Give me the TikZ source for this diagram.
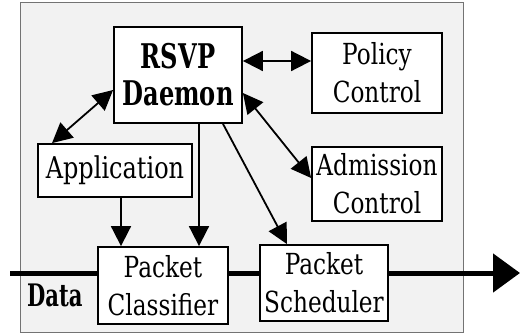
\documentclass[tikz,border=0pt]{standalone}
\usepackage{fontspec}
\usetikzlibrary{arrows.meta}
\newfontfamily\boxfont[FakeStretch=0.8]{DejaVu Serif}
\newfontfamily\headfont[FakeStretch=0.71]{DejaVu Serif}
\newfontfamily\labelfont[FakeStretch=0.68]{DejaVu Serif}
\begin{document}
\begin{tikzpicture}[x=1pt,y=-1pt,
  unit/.style={draw=black,line width=1.8pt,fill=white,inner sep=0pt,align=center,
    font=\boxfont\fontsize{29}{38}\selectfont},
  link/.style={line width=1.8pt,-{Triangle[length=20pt,width=20pt]}},
  duplex/.style={line width=1.8pt,{Triangle[length=20pt,width=20pt]}-{Triangle[length=20pt,width=20pt]}}]
  \useasboundingbox (0,0) rectangle (520,334);
  % host frame
  \draw[fill=black!5,draw=black!55,line width=1pt] (20,3) rectangle (463,332);
  % data path
  \coordinate (datain) at (10,273);
  \coordinate (dataout) at (520,273);
  \draw[line width=5pt,-{Triangle[length=27pt,width=38pt]}] (datain) -- (dataout);
  \node[anchor=base west,inner sep=0pt,font=\labelfont\bfseries\fontsize{31}{32}\selectfont] (datalabel) at (27,306) {Data};
  % components
  \node[unit,minimum width=128pt,minimum height=96pt,font=\headfont\bfseries\fontsize{34}{37}\selectfont] (rsvp) at (178,75) {RSVP\\Daemon};
  \node[unit,minimum width=130pt,minimum height=80pt] (policy) at (377,73) {Policy\\Control};
  \node[unit,minimum width=130pt,minimum height=74pt] (admission) at (377,184) {Admission\\Control};
  \node[unit,minimum width=154pt,minimum height=53pt,font=\boxfont\fontsize{30}{38}\selectfont] (app) at (115,170.5) {Application};
  \node[unit,minimum width=130pt,minimum height=77pt] (classifier) at (163,285.5) {Packet\\Classifier};
  \node[unit,minimum width=128pt,minimum height=76pt] (scheduler) at (324,283) {Packet\\Scheduler};
  % control connections
  \draw[duplex] ([yshift=14pt]rsvp.east) -- ([yshift=12pt]policy.west);
  \draw[duplex] ([yshift=-18pt]rsvp.east) -- ([yshift=6pt]admission.west);
  \draw[duplex] ([yshift=-15pt]rsvp.west) -- ([xshift=-63pt]app.north);
  \draw[link] ([xshift=6pt]app.south) -- ([xshift=6pt]app.south |- classifier.north);
  \draw[link] ([xshift=21pt]rsvp.south) -- ([xshift=21pt]rsvp.south |- classifier.north);
  \draw[link] ([xshift=45pt]rsvp.south) -- ([xshift=-37pt]scheduler.north);
\end{tikzpicture}
\end{document}
